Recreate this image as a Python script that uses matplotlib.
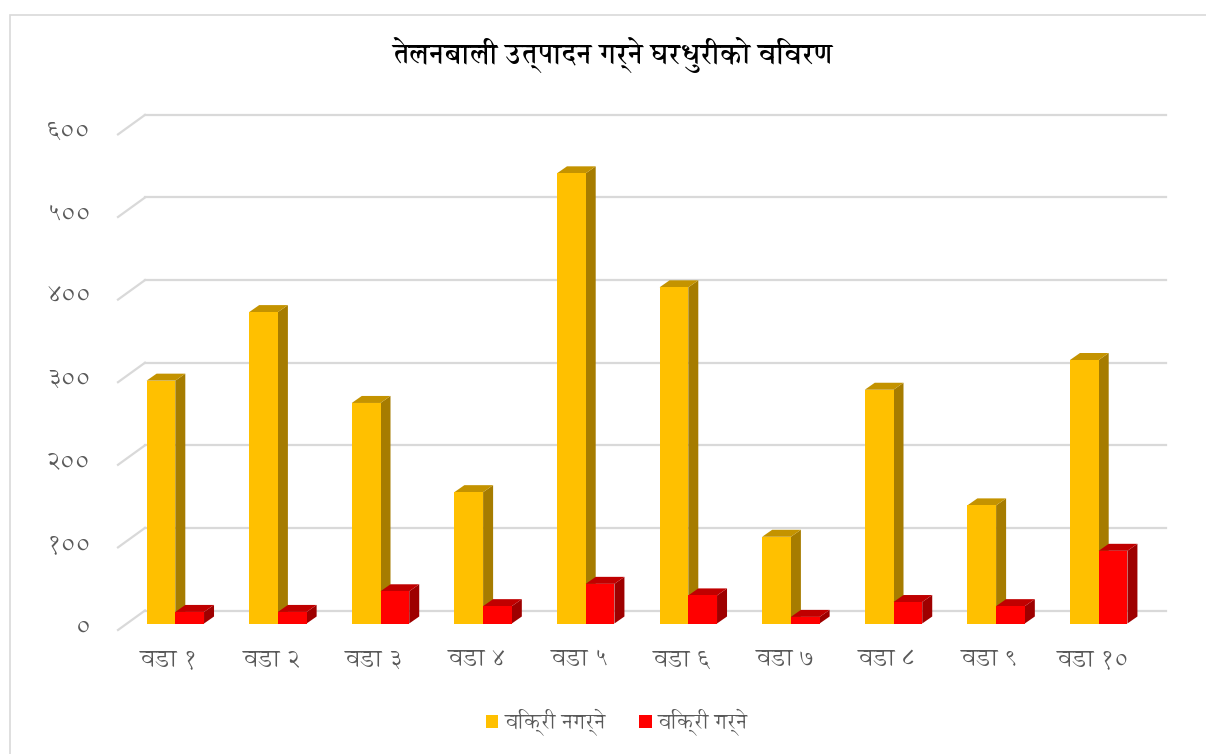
import matplotlib
matplotlib.use("Agg")
import matplotlib.pyplot as plt
from matplotlib.patches import Polygon, Rectangle, Patch
from matplotlib.transforms import offset_copy

# data
wards = ["वडा १", "वडा २", "वडा ३", "वडा ४", "वडा ५",
         "वडा ६", "वडा ७", "वडा ८", "वडा ९", "वडा १०"]
not_selling = [294, 377, 267, 159, 545, 407, 105, 283, 143, 319]
selling = [14, 14, 39, 21, 48, 34, 8, 26, 21, 88]
series_names = ["विक्री नगर्ने", "विक्री गर्ने"]
yticks = [0, 100, 200, 300, 400, 500, 600]
ytick_labels = ["०", "१००", "२००", "३००", "४००", "५००", "६००"]
title = "तेलनबाली उत्पादन गर्ने घरधुरीको विवरण"

FONT = ["Annapurna SIL", "Noto Sans Devanagari", "DejaVu Sans"]
plt.rcParams["font.family"] = FONT

W, H = 1206, 754
fig = plt.figure(figsize=(W / 100, H / 100), dpi=100)

# axes = front plane of the bars (pixels measured on the reference)
left, right, bottom_px, top_px = 124, 1150, 623.5, 127.9
ax = fig.add_axes([left / W, 1 - bottom_px / H, (right - left) / W, (bottom_px - top_px) / H])
ax.set_xlim(0, len(wards))
ax.set_ylim(0, 600)
ax.axis("off")

# outer chart border (runs off right/bottom edges)
fig.patches.append(Rectangle((9.5 / W, -0.1), 1.2, 1 - 15 / H + 0.1, transform=fig.transFigure,
                             fill=False, edgecolor="#d9d9d9", lw=1.2))

grid_c = "#d9d9d9"
back = offset_copy(ax.transData, fig=fig, x=21, y=13, units="dots")
front = offset_copy(ax.transData, fig=fig, x=-6, y=-6.5, units="dots")
for v in yticks:
    ax.plot([0, len(wards) - 0.05], [v, v], color=grid_c, lw=1.6, transform=back, clip_on=False, zorder=1)
    # little diagonal from the front edge to the back wall
    x0, y0 = front.transform((0, v))
    x1, y1 = back.transform((0, v))
    fig.add_artist(plt.Line2D([x0 / W, x1 / W], [y0 / H, y1 / H], color=grid_c, lw=1.6,
                              transform=fig.transFigure, zorder=1))

for v, lab in zip(yticks, ytick_labels):
    ax.text(0, v, lab, transform=offset_copy(ax.transData, fig=fig, x=-33, y=-4, units="dots"),
            ha="right", va="center", fontsize=18, color="#595959", clip_on=False)

for i, lab in enumerate(wards):
    ax.text(i + 0.5, 0, lab, transform=offset_copy(ax.transData, fig=fig, x=-6, y=-37, units="dots"),
            ha="center", va="center", fontsize=17, color="#595959", clip_on=False)

# fake 3d columns
px_x = (right - left) / len(wards)
px_y = (bottom_px - top_px) / 600
dep_x, dep_y = 10 / px_x, 7 / px_y
w = 0.28
colors = [("#ffc000", "#c49300", "#a67c00"), ("#ff0000", "#c00000", "#9e0000")]


def column(x0, v, cols):
    fc, tc, sc = cols
    side = [(x0 + w, 0), (x0 + w + dep_x, dep_y), (x0 + w + dep_x, v + dep_y), (x0 + w, v)]
    top = [(x0, v), (x0 + w, v), (x0 + w + dep_x, v + dep_y), (x0 + dep_x, v + dep_y)]
    ax.add_patch(Polygon(side, closed=True, facecolor=sc, edgecolor="none", zorder=3, clip_on=False))
    ax.add_patch(Polygon(top, closed=True, facecolor=tc, edgecolor="none", zorder=3, clip_on=False))
    ax.add_patch(Rectangle((x0, 0), w, v, facecolor=fc, edgecolor="none", zorder=3, clip_on=False))


for i in range(len(wards)):
    column(i + 0.5 - w, not_selling[i], colors[0])
    column(i + 0.5, selling[i], colors[1])

fig.text(612 / W, 1 - 55 / H, title, ha="center", va="center", fontsize=20, fontweight="bold", color="black")

handles = [Patch(facecolor=colors[0][0]), Patch(facecolor=colors[1][0])]
fig.legend(handles, series_names, loc="center", bbox_to_anchor=(617 / W, 1 - 722 / H), ncol=2,
           frameon=False, fontsize=15, handlelength=0.6, handleheight=0.6, handletextpad=0.3,
           columnspacing=1.6, labelcolor="#595959")

fig.savefig("out.png", dpi=100)
